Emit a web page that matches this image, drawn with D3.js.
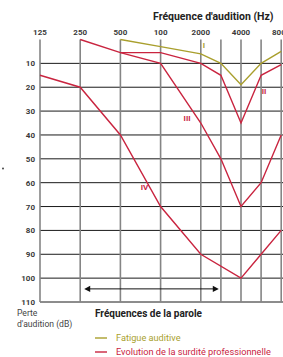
<!DOCTYPE html>
<html>
<head>
<meta charset="utf-8">
<script src="https://cdn.jsdelivr.net/npm/d3@7"></script>
<style>
  body { margin: 0; background: #fff; }
  svg { display: block; font-family: Roboto, "Open Sans", sans-serif; }
</style>
</head>
<body>
<div id="chart"></div>
<script>
// Data
const freqs = [125, 250, 500, 1000, 2000, 3000, 4000, 6000, 8000];
const freqPos = [0, 1, 2, 3, 4, 4.5, 5, 5.5, 6];
const topTicks = [125, 250, 500, 1000, 2000, 4000, 8000];
const topTickLabels = ["125", "250", "500", "100", "2000", "4000", "8000"];
const dbTicks = [10, 20, 30, 40, 50, 60, 70, 80, 90, 100, 110];

const fatigue = [[500, 0], [1000, 3], [2000, 6], [3000, 10], [4000, 19], [6000, 10], [8000, 5]];
const curveII = [[250, 0], [500, 5.5], [1000, 5.5], [2000, 10], [3000, 15], [4000, 35], [6000, 15], [8000, 10.5]];
const curveIII = [[500, 5.5], [1000, 10], [2000, 35], [3000, 50], [4000, 70], [6000, 60], [8000, 40]];
const curveIV = [[125, 15], [250, 20], [500, 40], [1000, 70], [2000, 90], [4000, 100], [6000, 90], [8000, 80]];

const olive = "#a99f2d";
const red = "#c9243f";

const width = 283, height = 357;
const svg = d3.select("#chart").append("svg")
  .attr("width", width)
  .attr("height", height);

// Scales
const x = d3.scaleLinear()
  .domain(freqs)
  .range(freqPos.map(p => 40 + p * 40.2));
const y = d3.scaleLinear().domain([0, 110]).range([39.5, 302]);

// Grid
svg.append("g").selectAll("line")
  .data(dbTicks)
  .join("line")
  .attr("x1", x(125)).attr("x2", width)
  .attr("y1", d => y(d)).attr("y2", d => y(d))
  .attr("stroke", "#1a1a1a")
  .attr("stroke-width", 1);

svg.append("g").selectAll("line")
  .data(freqs)
  .join("line")
  .attr("x1", d => x(d)).attr("x2", d => x(d))
  .attr("y1", y(0)).attr("y2", y(110))
  .attr("stroke", "#858585")
  .attr("stroke-width", 1.6);

// Top axis labels
svg.append("g").selectAll("text")
  .data(topTicks)
  .join("text")
  .attr("x", d => x(d))
  .attr("y", 35)
  .attr("text-anchor", "middle")
  .attr("font-size", 8)
  .attr("font-weight", "bold")
  .attr("fill", "#3a3a3a")
  .text((d, i) => topTickLabels[i]);

svg.append("text")
  .attr("x", 153).attr("y", 20)
  .attr("font-size", 10.5)
  .attr("font-weight", "bold")
  .attr("fill", "#222")
  .text("Fréquence d'audition (Hz)");

// Left axis labels
svg.append("g").selectAll("text")
  .data(dbTicks)
  .join("text")
  .attr("x", 35)
  .attr("y", d => y(d) + 3)
  .attr("text-anchor", "end")
  .attr("font-size", 8)
  .attr("font-weight", "bold")
  .attr("fill", "#3a3a3a")
  .text(d => d);

// Curves
const line = d3.line().x(d => x(d[0])).y(d => y(d[1]));
const curves = [
  { data: curveIV, color: red },
  { data: curveIII, color: red },
  { data: curveII, color: red },
  { data: fatigue, color: olive }
];
svg.append("g").selectAll("path")
  .data(curves)
  .join("path")
  .attr("d", d => line(d.data))
  .attr("fill", "none")
  .attr("stroke", d => d.color)
  .attr("stroke-width", 1.4);

// Roman labels
const romans = [
  { t: "I", f: 2150, db: 3.6, c: olive },
  { t: "II", f: 6300, db: 23, c: red },
  { t: "III", f: 1660, db: 34, c: red },
  { t: "IV", f: 800, db: 63, c: red }
];
svg.append("g").selectAll("text")
  .data(romans)
  .join("text")
  .attr("x", d => x(d.f))
  .attr("y", d => y(d.db))
  .attr("font-size", 8)
  .attr("font-weight", "bold")
  .attr("fill", d => d.c)
  .attr("text-anchor", "middle")
  .text(d => d.t);

// Speech range arrow
const arrowY = y(104.5);
svg.append("line")
  .attr("x1", x(250) + 6).attr("x2", x(2000) + 15)
  .attr("y1", arrowY).attr("y2", arrowY)
  .attr("stroke", "#111").attr("stroke-width", 1);
const xl = x(250) + 4, xr = x(2000) + 18;
svg.append("path")
  .attr("d", `M${xl},${arrowY} l6,-3.2 v6.4 z M${xr},${arrowY} l-6,-3.2 v6.4 z`)
  .attr("fill", "#111");

svg.append("text")
  .attr("x", 95).attr("y", 317)
  .attr("font-size", 10)
  .attr("font-weight", "bold")
  .attr("fill", "#222")
  .text("Fréquences de la parole");

svg.append("text")
  .attr("x", 17).attr("y", 316)
  .attr("font-size", 8.6).attr("fill", "#444")
  .text("Perte");
svg.append("text")
  .attr("x", 17).attr("y", 327)
  .attr("font-size", 8.6).attr("fill", "#444")
  .text("d'audition (dB)");

// stray dot
svg.append("circle").attr("cx", 3).attr("cy", 168.5).attr("r", 0.9).attr("fill", "#333");

// Legend
const legend = [
  { label: "Fatigue auditive", color: olive },
  { label: "Evolution de la surdité professionnelle", color: red }
];
const lg = svg.append("g").selectAll("g")
  .data(legend)
  .join("g")
  .attr("transform", (d, i) => `translate(95,${338 + i * 14})`);
lg.append("line")
  .attr("x1", 0).attr("x2", 12)
  .attr("stroke", d => d.color).attr("stroke-width", 1.4);
lg.append("text")
  .attr("x", 21).attr("y", 3)
  .attr("font-size", 9.2)
  .attr("fill", d => d.color)
  .text(d => d.label);
</script>
</body>
</html>
